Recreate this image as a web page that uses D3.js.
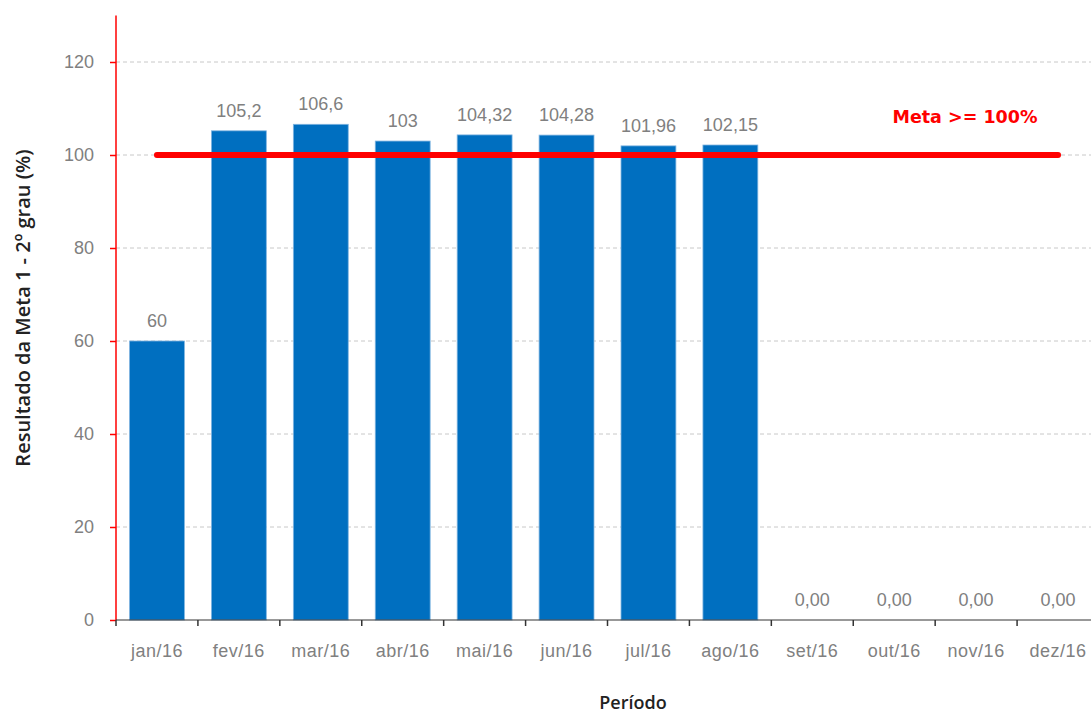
<!DOCTYPE html>
<html>
<head>
<meta charset="utf-8">
<script src="https://cdn.jsdelivr.net/npm/d3@7"></script>
<style>
  body { margin: 0; background: #fff; }
  svg { display: block; }
</style>
</head>
<body>
<svg id="chart" width="1091" height="713"></svg>
<script>
//dimensions of the svg
var width = 1091, height = 713;
var plotLeft = 116, plotRight = 1099, plotTop = 15.5, plotBottom = 620;

//months
var months = ['jan/16', 'fev/16', 'mar/16', 'abr/16', 'mai/16', 'jun/16',
              'jul/16', 'ago/16', 'set/16', 'out/16', 'nov/16', 'dez/16'];

//result per month
var values = [60, 105.2, 106.6, 103, 104.32, 104.28, 101.96, 102.15, 0, 0, 0, 0];

//labels as printed on the bars
var valueLabels = ['60', '105,2', '106,6', '103', '104,32', '104,28',
                   '101,96', '102,15', '0,00', '0,00', '0,00', '0,00'];

//goal line
var goal = 100;
var goalLabel = 'Meta >= 100%';

var yTicks = [0, 20, 40, 60, 80, 100, 120];

var svg = d3.select('#chart');

var x = d3.scaleBand()
    .domain(months)
    .range([plotLeft, plotRight])
    .paddingInner(0.33)
    .paddingOuter(0.165);

var y = d3.scaleLinear()
    .domain([0, 130])
    .range([plotBottom, plotTop]);

//gridlines
svg.append('g')
    .selectAll('line')
    .data(yTicks.filter(function(d){ return d > 0 }))
    .enter().append('line')
    .attr('x1', plotLeft)
    .attr('x2', width)
    .attr('y1', function(d){ return y(d) })
    .attr('y2', function(d){ return y(d) })
    .attr('stroke', '#c8c8c8')
    .attr('stroke-dasharray', '4,3');

//bars
svg.append('g')
    .selectAll('rect')
    .data(values)
    .enter().append('rect')
    .attr('x', function(d, i){ return x(months[i]) })
    .attr('width', x.bandwidth())
    .attr('y', function(d){ return y(d) })
    .attr('height', function(d){ return plotBottom - y(d) })
    .attr('fill', '#006fc0')
    .attr('stroke', '#7fb4e0')
    .attr('stroke-width', 0.8);

//value labels
svg.append('g')
    .selectAll('text')
    .data(values)
    .enter().append('text')
    .attr('x', function(d, i){ return x(months[i]) + x.bandwidth() / 2 })
    .attr('y', function(d){ return y(d) - 14 })
    .attr('text-anchor', 'middle')
    .attr('font-family', 'Liberation Sans, Arial, sans-serif')
    .attr('font-size', 18)
    .attr('fill', '#808080')
    .text(function(d, i){ return valueLabels[i] });

//goal line, from first month centre to last month centre
svg.append('line')
    .attr('x1', x(months[0]) + x.bandwidth() / 2)
    .attr('x2', x(months[months.length - 1]) + x.bandwidth() / 2)
    .attr('y1', y(goal))
    .attr('y2', y(goal))
    .attr('stroke', '#ff0000')
    .attr('stroke-width', 6)
    .attr('stroke-linecap', 'round');

svg.append('text')
    .attr('x', 965)
    .attr('y', y(goal) - 32)
    .attr('text-anchor', 'middle')
    .attr('font-family', 'DejaVu Sans, sans-serif')
    .attr('font-weight', 'bold')
    .attr('font-size', 17.5)
    .attr('fill', '#ff0000')
    .text(goalLabel);

//y axis
var yAxis = svg.append('g')
    .attr('transform', 'translate(' + plotLeft + ',0)')
    .call(d3.axisLeft(y).tickValues(yTicks).tickSize(6).tickPadding(16));
yAxis.select('.domain').remove();
yAxis.append('line')
    .attr('x1', 0).attr('x2', 0)
    .attr('y1', plotTop).attr('y2', plotBottom)
    .attr('stroke', '#ff0000')
    .attr('stroke-width', 1.5);
yAxis.selectAll('.tick line').attr('stroke', '#ff0000').attr('stroke-width', 1.5);
yAxis.selectAll('.tick text')
    .attr('font-family', 'Liberation Sans, Arial, sans-serif')
    .attr('font-size', 18)
    .attr('fill', '#808080');

//x axis
var xAxis = svg.append('g')
    .attr('transform', 'translate(0,' + plotBottom + ')');
xAxis.append('line')
    .attr('x1', plotLeft).attr('x2', width)
    .attr('stroke', '#333');
xAxis.selectAll('.sep')
    .data(months)
    .enter().append('line')
    .attr('class', 'sep')
    .attr('x1', function(d){ return x(d) - x.step() * x.paddingInner() / 2 })
    .attr('x2', function(d){ return x(d) - x.step() * x.paddingInner() / 2 })
    .attr('y1', 0).attr('y2', 6)
    .attr('stroke', '#333')
    .attr('stroke-width', 1.5);
xAxis.selectAll('.lbl')
    .data(months)
    .enter().append('text')
    .attr('class', 'lbl')
    .attr('x', function(d){ return x(d) + x.bandwidth() / 2 })
    .attr('y', 37)
    .attr('text-anchor', 'middle')
    .attr('font-family', 'Liberation Sans, Arial, sans-serif')
    .attr('font-size', 18)
    .attr('letter-spacing', 0.5)
    .attr('fill', '#808080')
    .text(function(d){ return d });

//axis titles
svg.append('text')
    .attr('transform', 'translate(30,308) rotate(-90)')
    .attr('text-anchor', 'middle')
    .attr('font-family', 'Open Sans, sans-serif')
    .attr('font-weight', 600)
    .attr('font-size', 20)
    .attr('fill', '#222')
    .text('Resultado da Meta 1 - 2º grau (%)');

svg.append('text')
    .attr('x', 633)
    .attr('y', 709)
    .attr('text-anchor', 'middle')
    .attr('font-family', 'Open Sans, sans-serif')
    .attr('font-weight', 600)
    .attr('font-size', 18)
    .attr('fill', '#222')
    .text('Período');
</script>
</body>
</html>
